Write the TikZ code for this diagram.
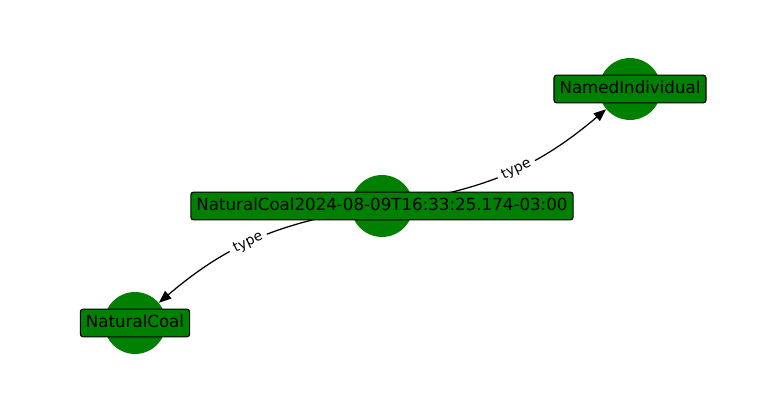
\documentclass[tikz,border=0pt]{standalone}
\usepackage{fontspec}
\setmainfont{DejaVu Sans}
\usetikzlibrary{
    arrows.meta,
    positioning,
}
\definecolor{nodegreen}{RGB}{0,128,0}

\begin{document}
\begin{tikzpicture}[
    x=0.72pt, y=-0.72pt,
    vertex/.style={circle, fill=nodegreen, inner sep=0pt, minimum size=44.6pt},
    tag/.style={draw=black, fill=nodegreen, rounded corners=2pt, line width=0.8pt,
        inner xsep=4pt, inner ysep=4pt, text height=9.5pt, text depth=2.5pt,
        font=\fontsize{12}{14}\selectfont},
    rel/.style={-{Triangle[length=9pt,width=7pt]}, line width=0.9pt, bend right=15},
    edgelabel/.style={fill=white, inner xsep=3.5pt, inner ysep=2pt, sloped, font=\fontsize{10}{12}\selectfont},
]
\useasboundingbox (0,0) rectangle (764,412);

% vertices
\node[vertex] (coal2024) at (382,206) {};
\node[vertex] (named) at (630,89) {};
\node[vertex] (coal) at (135,323) {};

% edges
\draw[rel] (coal2024) to node[edgelabel] {type} (named);
\draw[rel] (coal2024) to node[edgelabel] {type} (coal);

% labels
\node[tag] (coal2024label) at (coal2024) {NaturalCoal2024-08-09T16:33:25.174-03:00};
\node[tag] (namedlabel) at (named) {NamedIndividual};
\node[tag] (coallabel) at (coal) {NaturalCoal};

\end{tikzpicture}
\end{document}
